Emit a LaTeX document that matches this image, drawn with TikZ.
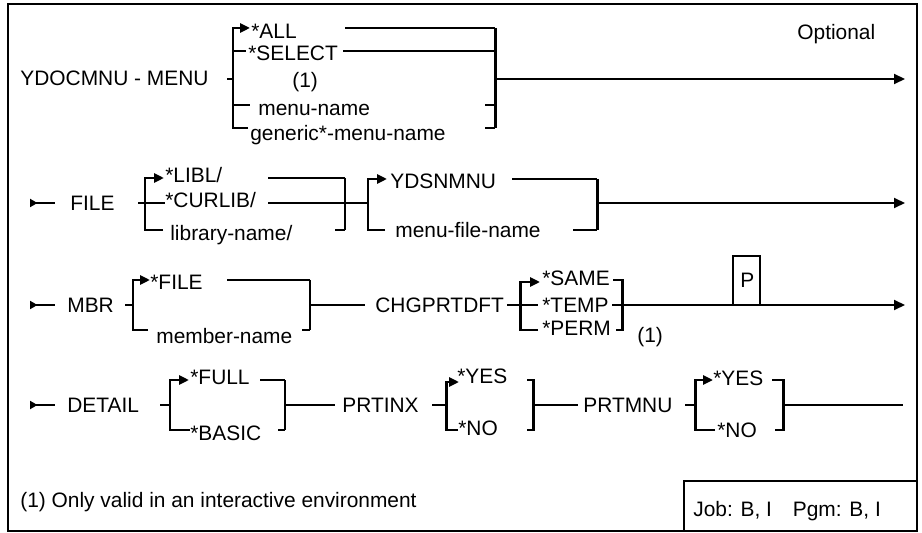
\documentclass[tikz,border=0pt]{standalone}
\usepackage{fontspec}
\setmainfont{Liberation Sans}
\usetikzlibrary{arrows.meta}
\tikzset{
  lbl/.style={anchor=west, inner sep=0pt, text height=8.5pt, text depth=0pt, font=\fontsize{11.9}{14}\selectfont},
  rail/.style={line width=1.1pt},
  brace/.style={line width=1.7pt},
  endarrow/.style={rail, -{Triangle[length=2.2mm,width=2mm]}},
  startarrow/.style={rail, {Triangle[reversed,length=1.5mm,width=1.6mm]}-},
  pick/.style={brace, -{Triangle[length=2mm,width=1.8mm]}},
}

\begin{document}
\begin{tikzpicture}[x=0.02cm, y=-0.02cm]
  \useasboundingbox (0,0) rectangle (922,533);
  % frame
  \draw[line width=1.4pt] (8,4) rectangle (917,531);
  \draw[line width=1.4pt] (684,531) -- (684,481) -- (917,481);
  \node[lbl] (opt) at (797,32) {Optional};

  % MENU
  \node[lbl] (menu) at (20,78) {YDOCMNU - MENU};
  \node[lbl] (all) at (251,31) {*ALL};
  \node[lbl] (select) at (248,53) {*SELECT};
  \node[lbl] (note1) at (292,80) {(1)};
  \node[lbl] (mname) at (258,108) {menu-name};
  \node[lbl] (gname) at (250,133) {generic*-menu-name};
  \draw[rail] (227,79) -- (233,79);
  \draw[pick] (248,128) -- (233,128) -- (233,28) -- (250,28);
  \draw[brace] (233,51) -- (246,51);
  \draw[brace] (233,105) -- (250,105);
  \draw[rail] (345,28) -- (495,28);
  \draw[rail] (343,51) -- (495,51);
  \draw[brace] (495,28) -- (495,128);
  \draw[brace] (485,105) -- (495,105);
  \draw[brace] (485,128) -- (495,128);
  \draw[endarrow] (495,79) -- (905,79);

  % FILE
  \draw[startarrow] (30,203) -- (55,203);
  \node[lbl] (file) at (70,203) {FILE};
  \node[lbl] (libl) at (165,175) {*LIBL/};
  \node[lbl] (curlib) at (165,200) {*CURLIB/};
  \node[lbl] (lib) at (170,233) {library-name/};
  \node[lbl] (ydsn) at (390,181) {YDSNMNU};
  \node[lbl] (mfile) at (395,230) {menu-file-name};
  \draw[rail] (138,203) -- (165,203);
  \draw[pick] (163,230) -- (145,230) -- (145,178) -- (164,178);
  \draw[rail] (268,178) -- (345,178);
  \draw[rail] (268,203) -- (368,203);
  \draw[brace] (345,178) -- (345,230);
  \draw[brace] (335,230) -- (345,230);
  \draw[pick] (385,230) -- (368,230) -- (368,179) -- (387,179);
  \draw[rail] (512,179) -- (597,179);
  \draw[brace] (597,179) -- (597,230);
  \draw[brace] (573,230) -- (597,230);
  \draw[endarrow] (597,203) -- (905,203);

  % MBR
  \draw[startarrow] (30,305) -- (55,305);
  \node[lbl] (mbr) at (67,305) {MBR};
  \node[lbl] (ffile) at (150,282) {*FILE};
  \node[lbl] (member) at (156,336) {member-name};
  \node[lbl] (chg) at (375,305) {CHGPRTDFT};
  \node[lbl] (same) at (542,278) {*SAME};
  \node[lbl] (temp) at (542,305) {*TEMP};
  \node[lbl] (perm) at (542,328) {*PERM};
  \node[lbl] (note2) at (637,335) {(1)};
  \node[lbl] (pos) at (740,280) {P};
  \draw[rail] (125,305) -- (133,305);
  \draw[pick] (148,330) -- (133,330) -- (133,280) -- (150,280);
  \draw[rail] (227,280) -- (310,280);
  \draw[brace] (310,280) -- (310,330);
  \draw[brace] (302,330) -- (310,330);
  \draw[rail] (310,305) -- (365,305);
  \draw[rail] (507,305) -- (538,305);
  \draw[pick] (538,330) -- (520,330) -- (520,282) -- (540,282);
  \draw[brace] (613,280) -- (622,280) -- (622,330) -- (616,330);
  \draw[rail] (733,305) -- (733,256) -- (760,256) -- (760,305);
  \draw[endarrow] (612,305) -- (905,305);

  % DETAIL
  \draw[startarrow] (30,405) -- (55,405);
  \node[lbl] (detail) at (67,405) {DETAIL};
  \node[lbl] (full) at (190,377) {*FULL};
  \node[lbl] (basic) at (190,433) {*BASIC};
  \node[lbl] (prtinx) at (342,405) {PRTINX};
  \node[lbl] (yes1) at (457,376) {*YES};
  \node[lbl] (no1) at (458,428) {*NO};
  \node[lbl] (prtmnu) at (583,405) {PRTMNU};
  \node[lbl] (yes2) at (713,378) {*YES};
  \node[lbl] (no2) at (717,430) {*NO};
  \draw[rail] (160,405) -- (170,405);
  \draw[pick] (190,430) -- (170,430) -- (170,380) -- (189,380);
  \draw[rail] (260,380) -- (285,380);
  \draw[brace] (285,380) -- (285,430);
  \draw[brace] (278,430) -- (285,430);
  \draw[rail] (285,405) -- (335,405);
  \draw[rail] (432,405) -- (446,405);
  \draw[pick] (458,430) -- (446,430) -- (446,382) -- (459,382);
  \draw[brace] (527,380) -- (533,380) -- (533,430) -- (527,430);
  \draw[rail] (533,405) -- (578,405);
  \draw[rail] (685,405) -- (695,405);
  \draw[pick] (715,430) -- (695,430) -- (695,380) -- (713,380);
  \draw[brace] (772,380) -- (783,380) -- (783,430) -- (775,430);
  \draw[rail] (783,405) -- (903,405);

  % footnote and job box
  \node[lbl] (foot) at (20,500) {(1) Only valid in an interactive environment};
  \node[lbl] (job) at (693,509) {Job: B, I\quad Pgm: B, I};
\end{tikzpicture}
\end{document}
